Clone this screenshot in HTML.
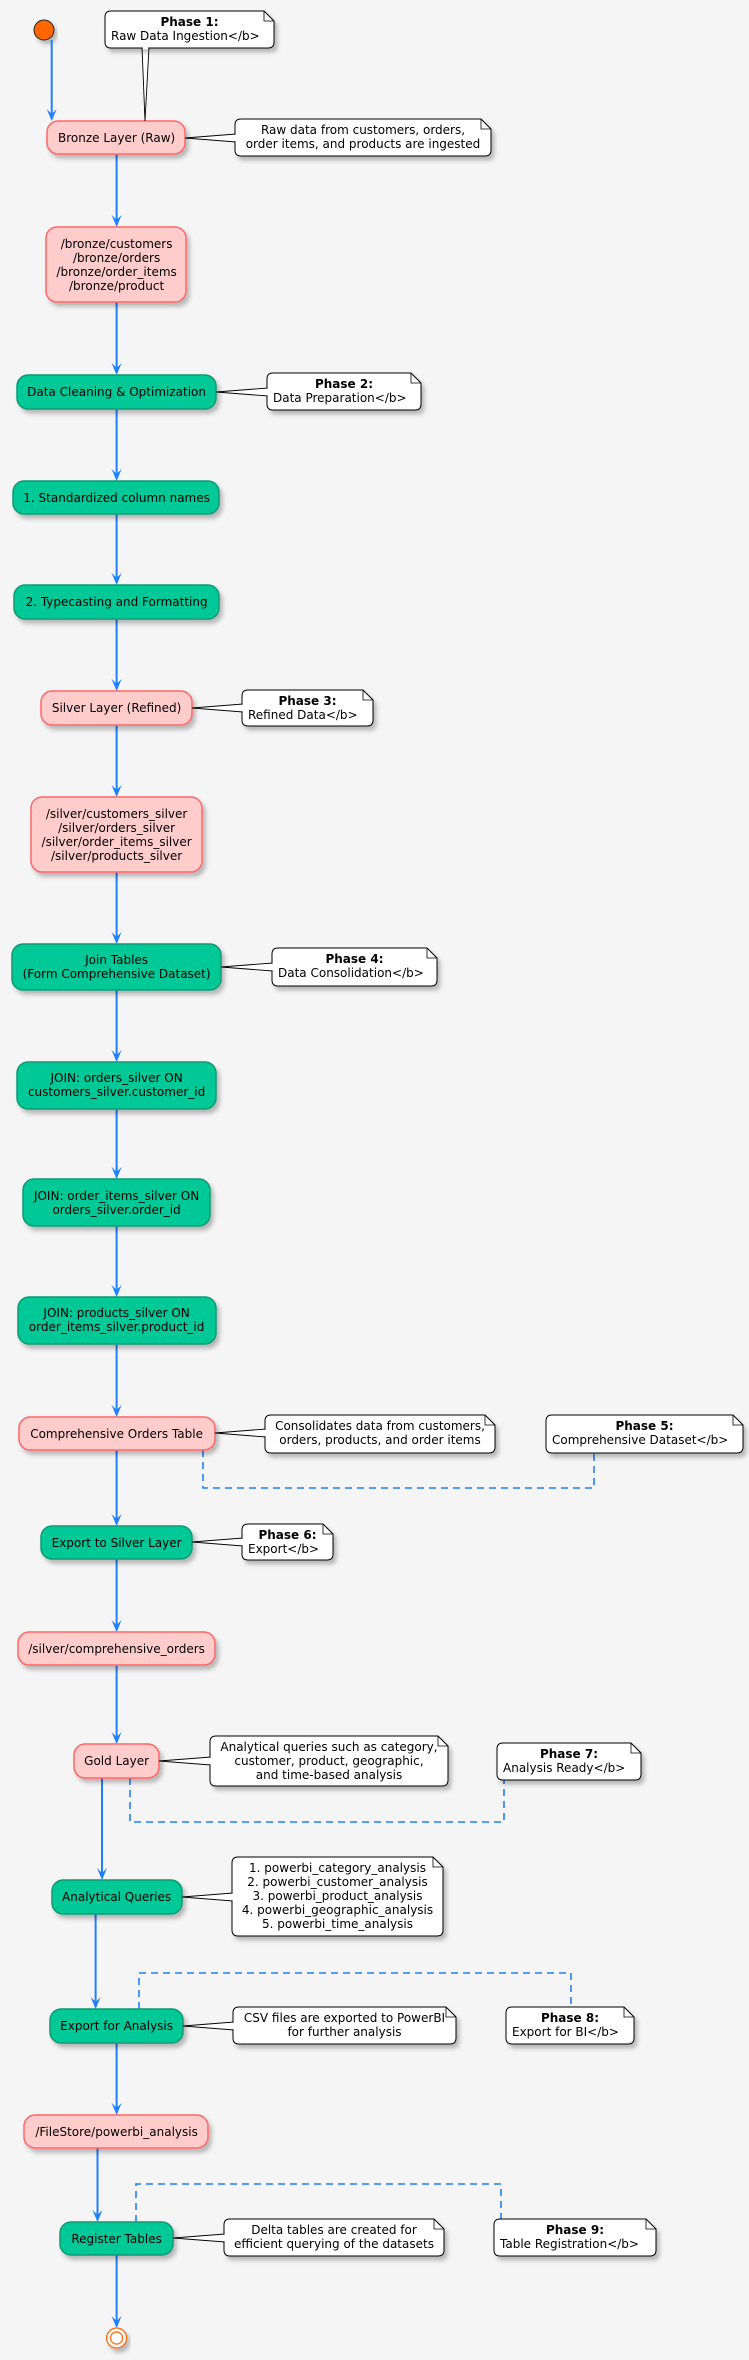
<!DOCTYPE html>
<html><head><meta charset="utf-8"><style>
html,body{margin:0;padding:0;background:#F5F5F5;}
svg{display:block;}
text{font-family:"DejaVu Sans","Liberation Sans",sans-serif;font-size:12px;fill:#000;}
.c{text-anchor:middle;}
.b{font-weight:bold;}
.pk{fill:#FFCCCC;stroke:#FF6666;stroke-width:1.5;}
.gr{fill:#00C896;stroke:#0E9A73;stroke-width:1.5;}
.nt{fill:#fff;stroke:#000;stroke-width:1;}
.fd{fill:none;stroke:#000;stroke-width:0.8;}
.ar{stroke:#1E7FFF;stroke-width:2;fill:none;}
.ah{fill:#1E7FFF;}
.ds{stroke:#1E7FFF;stroke-width:1.6;fill:none;stroke-dasharray:7 5;}
.sh{filter:url(#s);}
.cv{stroke:#fff;stroke-width:2.5;}
</style></head><body>
<svg width="749" height="2360" viewBox="0 0 749 2360" xmlns="http://www.w3.org/2000/svg">
<defs><filter id="s" x="-10%" y="-20%" width="130%" height="160%"><feDropShadow dx="3" dy="4" stdDeviation="2" flood-color="#000" flood-opacity="0.25"/></filter></defs>

<circle cx="44" cy="30" r="10" fill="#FF6600" stroke="#222" stroke-width="1" class="sh"/>

<g>
<line class="ar" x1="51.7" y1="40" x2="51.7" y2="119"/><polygon class="ah" points="46.7,109 51.7,121 56.7,109 51.7,114"/>
<line class="ar" x1="116.6" y1="154" x2="116.6" y2="225"/><polygon class="ah" points="111.6,215 116.6,227 121.6,215 116.6,220"/>
<line class="ar" x1="116.6" y1="302" x2="116.6" y2="373"/><polygon class="ah" points="111.6,363 116.6,375 121.6,363 116.6,368"/>
<line class="ar" x1="116.6" y1="409" x2="116.6" y2="479"/><polygon class="ah" points="111.6,469 116.6,481 121.6,469 116.6,474"/>
<line class="ar" x1="116.6" y1="514" x2="116.6" y2="583"/><polygon class="ah" points="111.6,573 116.6,585 121.6,573 116.6,578"/>
<line class="ar" x1="116.6" y1="619" x2="116.6" y2="689"/><polygon class="ah" points="111.6,679 116.6,691 121.6,679 116.6,684"/>
<line class="ar" x1="116.6" y1="725" x2="116.6" y2="795"/><polygon class="ah" points="111.6,785 116.6,797 121.6,785 116.6,790"/>
<line class="ar" x1="116.6" y1="872" x2="116.6" y2="942"/><polygon class="ah" points="111.6,932 116.6,944 121.6,932 116.6,937"/>
<line class="ar" x1="116.6" y1="990" x2="116.6" y2="1060"/><polygon class="ah" points="111.6,1050 116.6,1062 121.6,1050 116.6,1055"/>
<line class="ar" x1="116.6" y1="1109" x2="116.6" y2="1177"/><polygon class="ah" points="111.6,1167 116.6,1179 121.6,1167 116.6,1172"/>
<line class="ar" x1="116.6" y1="1226" x2="116.6" y2="1295"/><polygon class="ah" points="111.6,1285 116.6,1297 121.6,1285 116.6,1290"/>
<line class="ar" x1="116.6" y1="1344" x2="116.6" y2="1415"/><polygon class="ah" points="111.6,1405 116.6,1417 121.6,1405 116.6,1410"/>
<line class="ar" x1="116.6" y1="1450" x2="116.6" y2="1524"/><polygon class="ah" points="111.6,1514 116.6,1526 121.6,1514 116.6,1519"/>
<line class="ar" x1="116.6" y1="1559" x2="116.6" y2="1630"/><polygon class="ah" points="111.6,1620 116.6,1632 121.6,1620 116.6,1625"/>
<line class="ar" x1="116.6" y1="1665" x2="116.6" y2="1742"/><polygon class="ah" points="111.6,1732 116.6,1744 121.6,1732 116.6,1737"/>
<line class="ar" x1="102" y1="1778" x2="102" y2="1878"/><polygon class="ah" points="97,1868 102,1880 107,1868 102,1873"/>
<line class="ar" x1="95.6" y1="1914" x2="95.6" y2="2007"/><polygon class="ah" points="90.6,1997 95.6,2009 100.6,1997 95.6,2002"/>
<line class="ar" x1="116.6" y1="2043" x2="116.6" y2="2113"/><polygon class="ah" points="111.6,2103 116.6,2115 121.6,2103 116.6,2108"/>
<line class="ar" x1="97.5" y1="2148" x2="97.5" y2="2220"/><polygon class="ah" points="92.5,2210 97.5,2222 102.5,2210 97.5,2215"/>
<line class="ar" x1="116.6" y1="2255" x2="116.6" y2="2326"/><polygon class="ah" points="111.6,2316 116.6,2328 121.6,2316 116.6,2321"/>
</g>

<polyline class="ds" points="203,1450 203,1488 594,1488 594,1453"/>
<polyline class="ds" points="130,1778 130,1822 504,1822 504,1780"/>
<polyline class="ds" points="139,2009 139,1973 571,1973 571,2007"/>
<polyline class="ds" points="136,2222 136,2184 501,2184 501,2219"/>

<circle cx="116.6" cy="2338" r="10" fill="#F5F5F5" stroke="#FF6600" stroke-width="1.2" class="sh"/>
<circle cx="116.6" cy="2338" r="6" fill="#fff" stroke="#FF6600" stroke-width="1.2"/>

<rect class="pk sh" x="47" y="121" width="138" height="33" rx="11"/>
<text class="c" x="116.6" y="142">Bronze Layer (Raw)</text>

<rect class="pk sh" x="46" y="227" width="140" height="75" rx="11"/>
<text class="c" x="116.6" y="248">/bronze/customers</text>
<text class="c" x="116.6" y="262">/bronze/orders</text>
<text class="c" x="116.6" y="276">/bronze/order_items</text>
<text class="c" x="116.6" y="290">/bronze/product</text>

<rect class="gr sh" x="17" y="375" width="199" height="34" rx="11"/>
<text class="c" x="116.6" y="396">Data Cleaning &amp; Optimization</text>

<rect class="gr sh" x="13" y="481" width="206" height="33" rx="11"/>
<text class="c" x="116.6" y="502">1. Standardized column names</text>

<rect class="gr sh" x="14" y="585" width="205" height="34" rx="11"/>
<text class="c" x="116.6" y="606">2. Typecasting and Formatting</text>

<rect class="pk sh" x="41" y="691" width="151" height="34" rx="11"/>
<text class="c" x="116.6" y="712">Silver Layer (Refined)</text>

<rect class="pk sh" x="31" y="797" width="171" height="75" rx="11"/>
<text class="c" x="116.6" y="818">/silver/customers_silver</text>
<text class="c" x="116.6" y="832">/silver/orders_silver</text>
<text class="c" x="116.6" y="846">/silver/order_items_silver</text>
<text class="c" x="116.6" y="860">/silver/products_silver</text>

<rect class="gr sh" x="12" y="944" width="209" height="46" rx="11"/>
<text class="c" x="116.6" y="964">Join Tables</text>
<text class="c" x="116.6" y="978">(Form Comprehensive Dataset)</text>

<rect class="gr sh" x="17" y="1062" width="199" height="47" rx="11"/>
<text class="c" x="116.6" y="1082">JOIN: orders_silver ON</text>
<text class="c" x="116.6" y="1096">customers_silver.customer_id</text>

<rect class="gr sh" x="23" y="1179" width="187" height="47" rx="11"/>
<text class="c" x="116.6" y="1200">JOIN: order_items_silver ON</text>
<text class="c" x="116.6" y="1214">orders_silver.order_id</text>

<rect class="gr sh" x="18" y="1297" width="198" height="47" rx="11"/>
<text class="c" x="116.6" y="1317">JOIN: products_silver ON</text>
<text class="c" x="116.6" y="1331">order_items_silver.product_id</text>

<rect class="pk sh" x="19" y="1417" width="196" height="33" rx="11"/>
<text class="c" x="116.6" y="1438">Comprehensive Orders Table</text>

<rect class="gr sh" x="41" y="1526" width="151" height="33" rx="11"/>
<text class="c" x="116.6" y="1547">Export to Silver Layer</text>

<rect class="pk sh" x="18" y="1632" width="197" height="33" rx="11"/>
<text class="c" x="116.6" y="1653">/silver/comprehensive_orders</text>

<rect class="pk sh" x="74" y="1744" width="85" height="34" rx="11"/>
<text class="c" x="116.6" y="1765">Gold Layer</text>

<rect class="gr sh" x="52" y="1880" width="130" height="34" rx="11"/>
<text class="c" x="116.6" y="1901">Analytical Queries</text>

<rect class="gr sh" x="50" y="2009" width="133" height="34" rx="11"/>
<text class="c" x="116.6" y="2030">Export for Analysis</text>

<rect class="pk sh" x="24" y="2115" width="184" height="33" rx="11"/>
<text class="c" x="116.6" y="2136">/FileStore/powerbi_analysis</text>

<rect class="gr sh" x="60" y="2222" width="113" height="33" rx="11"/>
<text class="c" x="116.6" y="2243">Register Tables</text>

<g fill="#fff" stroke="#000" stroke-width="0.9">
<polygon points="142,47 145,121 149,47"/>
<polygon points="185,138 236,134 236,142"/>
<polygon points="216,392 268,388 268,396"/>
<polygon points="192,708 243,704 243,712"/>
<polygon points="221,967 273,963 273,971"/>
<polygon points="215,1433 266,1429 266,1437"/>
<polygon points="192,1542 243,1538 243,1546"/>
<polygon points="159,1761 211,1757 211,1765"/>
<polygon points="182,1897 233,1893 233,1901"/>
<polygon points="183,2026 234,2022 234,2030"/>
<polygon points="173,2238 225,2234 225,2242"/>
</g>

<path class="nt sh" d="M111 11 H264 L274 21 V42 Q274 48 268 48 H111 Q105 48 105 42 V17 Q105 11 111 11Z"/><path class="fd" d="M264 11 V21 H274"/>
<text class="c b" x="189.5" y="26">Phase 1:</text><text x="111" y="40">Raw Data Ingestion&lt;/b&gt;</text>

<path class="nt sh" d="M241 119 H481 L491 129 V150 Q491 156 485 156 H241 Q235 156 235 150 V125 Q235 119 241 119Z"/><path class="fd" d="M481 119 V129 H491"/>
<text class="c" x="363" y="134">Raw data from customers, orders,</text><text class="c" x="363" y="148">order items, and products are ingested</text>

<path class="nt sh" d="M273 373 H411 L421 383 V404 Q421 410 415 410 H273 Q267 410 267 404 V379 Q267 373 273 373Z"/><path class="fd" d="M411 373 V383 H421"/>
<text class="c b" x="344" y="388">Phase 2:</text><text x="273" y="402">Data Preparation&lt;/b&gt;</text>

<path class="nt sh" d="M248 690 H363 L373 700 V720 Q373 726 367 726 H248 Q242 726 242 720 V696 Q242 690 248 690Z"/><path class="fd" d="M363 690 V700 H373"/>
<text class="c b" x="307.5" y="705">Phase 3:</text><text x="248" y="719">Refined Data&lt;/b&gt;</text>

<path class="nt sh" d="M278 948 H427 L437 958 V980 Q437 986 431 986 H278 Q272 986 272 980 V954 Q272 948 278 948Z"/><path class="fd" d="M427 948 V958 H437"/>
<text class="c b" x="354.5" y="963">Phase 4:</text><text x="278" y="977">Data Consolidation&lt;/b&gt;</text>

<path class="nt sh" d="M271 1415 H485 L495 1425 V1447 Q495 1453 489 1453 H271 Q265 1453 265 1447 V1421 Q265 1415 271 1415Z"/><path class="fd" d="M485 1415 V1425 H495"/>
<text class="c" x="380" y="1430">Consolidates data from customers,</text><text class="c" x="380" y="1444">orders, products, and order items</text>

<path class="nt sh" d="M552 1415 H733 L743 1425 V1447 Q743 1453 737 1453 H552 Q546 1453 546 1447 V1421 Q546 1415 552 1415Z"/><path class="fd" d="M733 1415 V1425 H743"/>
<text class="c b" x="644.5" y="1430">Phase 5:</text><text x="552" y="1444">Comprehensive Dataset&lt;/b&gt;</text>

<path class="nt sh" d="M248 1524 H323 L333 1534 V1554 Q333 1560 327 1560 H248 Q242 1560 242 1554 V1530 Q242 1524 248 1524Z"/><path class="fd" d="M323 1524 V1534 H333"/>
<text class="c b" x="287.5" y="1539">Phase 6:</text><text x="248" y="1553">Export&lt;/b&gt;</text>

<path class="nt sh" d="M216 1736 H438 L448 1746 V1780 Q448 1786 442 1786 H216 Q210 1786 210 1780 V1742 Q210 1736 216 1736Z"/><path class="fd" d="M438 1736 V1746 H448"/>
<text class="c" x="329" y="1751">Analytical queries such as category,</text><text class="c" x="329" y="1765">customer, product, geographic,</text><text class="c" x="329" y="1779">and time-based analysis</text>

<path class="nt sh" d="M503 1743 H631 L641 1753 V1774 Q641 1780 635 1780 H503 Q497 1780 497 1774 V1749 Q497 1743 503 1743Z"/><path class="fd" d="M631 1743 V1753 H641"/>
<text class="c b" x="569" y="1758">Phase 7:</text><text x="503" y="1772">Analysis Ready&lt;/b&gt;</text>

<path class="nt sh" d="M238 1857 H433 L443 1867 V1930 Q443 1936 437 1936 H238 Q232 1936 232 1930 V1863 Q232 1857 238 1857Z"/><path class="fd" d="M433 1857 V1867 H443"/>
<text class="c" x="337.5" y="1872">1. powerbi_category_analysis</text>
<text class="c" x="337.5" y="1886">2. powerbi_customer_analysis</text>
<text class="c" x="337.5" y="1900">3. powerbi_product_analysis</text>
<text class="c" x="337.5" y="1914">4. powerbi_geographic_analysis</text>
<text class="c" x="337.5" y="1928">5. powerbi_time_analysis</text>

<path class="nt sh" d="M239 2007 H446 L456 2017 V2038 Q456 2044 450 2044 H239 Q233 2044 233 2038 V2013 Q233 2007 239 2007Z"/><path class="fd" d="M446 2007 V2017 H456"/>
<text class="c" x="344.5" y="2022">CSV files are exported to PowerBI</text><text class="c" x="344.5" y="2036">for further analysis</text>

<path class="nt sh" d="M512 2007 H624 L634 2017 V2038 Q634 2044 628 2044 H512 Q506 2044 506 2038 V2013 Q506 2007 512 2007Z"/><path class="fd" d="M624 2007 V2017 H634"/>
<text class="c b" x="570" y="2022">Phase 8:</text><text x="512" y="2036">Export for BI&lt;/b&gt;</text>

<path class="nt sh" d="M230 2219 H434 L444 2229 V2250 Q444 2256 438 2256 H230 Q224 2256 224 2250 V2225 Q224 2219 230 2219Z"/><path class="fd" d="M434 2219 V2229 H444"/>
<text class="c" x="334" y="2234">Delta tables are created for</text><text class="c" x="334" y="2248">efficient querying of the datasets</text>

<path class="nt sh" d="M500 2219 H646 L656 2229 V2250 Q656 2256 650 2256 H500 Q494 2256 494 2250 V2225 Q494 2219 500 2219Z"/><path class="fd" d="M646 2219 V2229 H656"/>
<text class="c b" x="575" y="2234">Phase 9:</text><text x="500" y="2248">Table Registration&lt;/b&gt;</text>

<!-- covers to open note border where pointer joins -->
<g class="cv">
<line x1="142.8" y1="48" x2="148.2" y2="48"/>
<line x1="235" y1="134.8" x2="235" y2="141.2"/>
<line x1="267" y1="388.8" x2="267" y2="395.2"/>
<line x1="242" y1="704.8" x2="242" y2="711.2"/>
<line x1="272" y1="963.8" x2="272" y2="970.2"/>
<line x1="265" y1="1429.8" x2="265" y2="1436.2"/>
<line x1="242" y1="1538.8" x2="242" y2="1545.2"/>
<line x1="210" y1="1757.8" x2="210" y2="1764.2"/>
<line x1="232" y1="1893.8" x2="232" y2="1900.2"/>
<line x1="233" y1="2022.8" x2="233" y2="2029.2"/>
<line x1="224" y1="2234.8" x2="224" y2="2241.2"/>
</g>
</svg>
</body></html>
